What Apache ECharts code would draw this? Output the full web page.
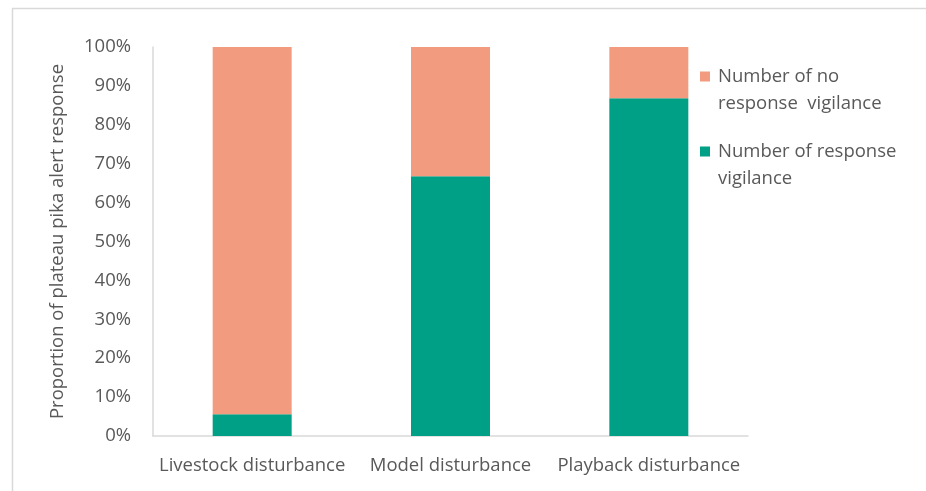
<!DOCTYPE html>
<html>
<head>
<meta charset="utf-8">
<script src="https://cdn.jsdelivr.net/npm/echarts@6/dist/echarts.min.js"></script>
<style>
  html, body { margin: 0; padding: 0; background: #fff; }
  #chart { width: 926px; height: 491px; }
</style>
</head>
<body>
<div id="chart"></div>
<script>
// Disturbance types on the x axis
const categories = ['Livestock disturbance', 'Model disturbance', 'Playback disturbance'];
// Share of pikas that showed an alert (vigilance) response, in percent
const responseVigilance = [5.6, 66.8, 86.8];
// Share of pikas with no vigilance response, in percent
const noResponseVigilance = [94.4, 33.2, 13.2];
// Y axis tick range
const yMin = 0, yMax = 100, yStep = 10;

const seriesNames = ['Number of response\nvigilance', 'Number of no\nresponse  vigilance'];
const textColor = '#595959';
const fontFamily = '"Open Sans", "Noto Sans", sans-serif';
const fontSize = 18.5;

// Square legend marker sitting at the top-left of a larger box, so it lines up
// with the first line of a two-line legend label and leaves a small gap before it.
const legendIcon = 'path://M0,0h10v10h-10z M0,37h13';

const chart = echarts.init(document.getElementById('chart'));
chart.setOption({
  backgroundColor: '#fff',
  animation: false,
  textStyle: { fontFamily: fontFamily, color: textColor },
  // Top and left edges of the chart-area frame
  graphic: [{
    type: 'polyline',
    silent: true,
    z: -1,
    shape: { points: [[940, 8.5], [12.5, 8.5], [12.5, 505]] },
    style: { fill: null, stroke: '#d9d9d9', lineWidth: 1.5 }
  }],
  grid: { left: 153, right: 178, top: 47, bottom: 55 },
  legend: {
    orient: 'vertical',
    left: 695,
    top: 58,
    itemWidth: 13,
    itemHeight: 37,
    itemGap: 21,
    icon: legendIcon,
    data: [seriesNames[1], seriesNames[0]],
    textStyle: { fontSize: fontSize, color: textColor, lineHeight: 27, fontFamily: fontFamily }
  },
  xAxis: {
    type: 'category',
    data: categories,
    axisLine: { lineStyle: { color: '#d9d9d9', width: 1.5 } },
    axisTick: { show: false },
    axisLabel: { color: textColor, fontSize: fontSize, margin: 20, interval: 0 }
  },
  yAxis: {
    type: 'value',
    min: yMin,
    max: yMax,
    interval: yStep,
    name: 'Proportion of plateau pika alert response',
    nameLocation: 'middle',
    nameGap: 86,
    nameTextStyle: { color: textColor, fontSize: fontSize },
    axisLine: { show: true, lineStyle: { color: '#d9d9d9', width: 1.5 } },
    axisTick: { show: false },
    splitLine: { show: false },
    axisLabel: { color: textColor, fontSize: fontSize, margin: 22, formatter: '{value}%' }
  },
  series: [
    {
      name: seriesNames[0],
      type: 'bar',
      stack: 'total',
      barWidth: 79,
      data: responseVigilance,
      itemStyle: { color: '#00a086' }
    },
    {
      name: seriesNames[1],
      type: 'bar',
      stack: 'total',
      barWidth: 79,
      data: noResponseVigilance,
      itemStyle: { color: '#f29b7f' }
    }
  ]
});
</script>
</body>
</html>
